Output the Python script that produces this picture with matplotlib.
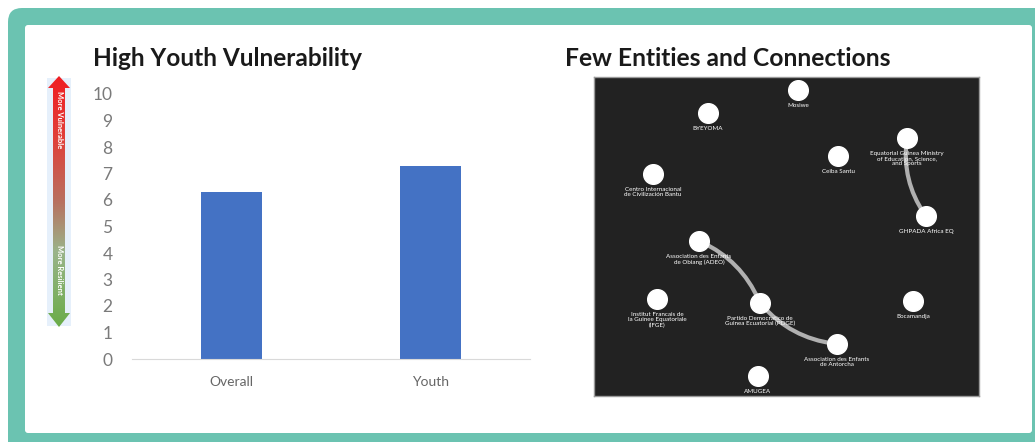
import numpy as np
import matplotlib
matplotlib.use('Agg')
from matplotlib import pyplot as plt
from matplotlib.patches import FancyBboxPatch, Rectangle, Polygon, FancyArrowPatch
from matplotlib.colors import LinearSegmentedColormap

plt.rcParams['font.family'] = ['Lato', 'DejaVu Sans']

# bar chart data
categories = ['Overall', 'Youth']
scores = [6.3, 7.3]

# network data (positions in panel fractions)
node_names = ['Mosiwe', 'BYEYOMA', 'Equatorial Guinea Ministry\nof Education, Science,\nand Sports',
              'Ceiba Santu', 'Centro Internacional\nde Civilización Bantu', 'GHPADA Africa EQ',
              'Association des Enfants\nde Obiang (ADEO)', 'Institut Francais de\nla Guinee Equatoriale\n(IFGE)',
              'Partido Democratico de\nGuinea Ecuatorial (PDGE)', 'Bocamandja',
              'Association des Enfants\nde Antorcha', 'AMUGEA']
node_x = [0.530, 0.296, 0.813, 0.634, 0.153, 0.862, 0.273, 0.164, 0.431, 0.829, 0.631, 0.426]
node_y = [0.959, 0.887, 0.809, 0.752, 0.696, 0.564, 0.486, 0.304, 0.292, 0.298, 0.163, 0.063]
edges = [(2, 5, 0.2), (6, 8, -0.2), (8, 10, 0.2)]

W, H = 1035, 442
fig = plt.figure(figsize=(W / 100, H / 100), dpi=100)


def box(x0, y0, x1, y1):
    # pixel box (top-left origin) -> figure fractions
    return [x0 / W, 1 - y1 / H, (x1 - x0) / W, (y1 - y0) / H]


# frame
bg = fig.add_axes([0, 0, 1, 1], zorder=-10)
bg.set_xlim(0, W)
bg.set_ylim(H, 0)
bg.axis('off')
bg.add_patch(FancyBboxPatch((8, 8), 1060, 470, boxstyle='round,pad=0,rounding_size=14',
                            fc='#6bc3b1', ec='none'))
bg.add_patch(FancyBboxPatch((25, 25), 1007, 408, boxstyle='round,pad=0,rounding_size=3',
                            fc='white', ec='none'))

# bar chart
ax = fig.add_axes(box(132, 94, 530, 359))
ax.bar(range(len(categories)), scores, width=0.31, color='#4472c4')
ax.set_xlim(-0.5, 1.5)
ax.set_ylim(0, 10)
ax.set_yticks(range(0, 11))
ax.set_xticks(range(len(categories)))
ax.set_xticklabels(categories)
ax.tick_params(axis='y', length=0, pad=14, labelsize=12.5, labelcolor='#7a7a7a')
ax.tick_params(axis='x', length=0, pad=12, labelsize=10, labelcolor='#666666')
for s in ['top', 'right', 'left']:
    ax.spines[s].set_visible(False)
ax.spines['bottom'].set_color('#d9d9d9')
ax.set_facecolor('none')

fig.text(93 / W, 1 - 59 / H, 'High Youth Vulnerability', fontsize=17.6, fontweight='bold',
         color='#1a1a1a', va='center', ha='left')
fig.text(565 / W, 1 - 59 / H, 'Few Entities and Connections', fontsize=17.7, fontweight='bold',
         color='#1a1a1a', va='center', ha='left')

# gradient arrow
aa = fig.add_axes(box(40, 70, 78, 330))
aa.axis('off')
aa.add_patch(Rectangle((47, 78), 24, 248, fc='#e6f0fb', ec='none', zorder=1))
cmap = LinearSegmentedColormap.from_list('vr', [(0, '#f01e23'), (0.25, '#e0403a'), (0.5, '#b87060'),
                                                (0.7, '#9ab48a'), (1, '#6aac48')])
grad = np.linspace(0, 1, 256).reshape(-1, 1)
im = aa.imshow(grad, cmap=cmap, extent=(47, 71, 327, 76), aspect='auto', zorder=2)
arrow = Polygon([(59, 76), (70, 88), (65, 88), (65, 313), (70, 313), (59, 327),
                 (48, 313), (53, 313), (53, 88), (48, 88)], closed=True, fc='none', ec='none')
aa.add_patch(arrow)
im.set_clip_path(arrow)
aa.set_xlim(40, 78)
aa.set_ylim(330, 70)
aa.text(60, 120, 'More Vulnerable', rotation=-90, fontsize=5.5, color='white',
        fontweight='bold', ha='center', va='center', zorder=3)
aa.text(60, 270, 'More Resilient', rotation=-90, fontsize=5.5, color='white',
        fontweight='bold', ha='center', va='center', zorder=3)

# network panel
nx = fig.add_axes(box(594, 77, 979, 396))
nx.set_facecolor('#222222')
nx.set_xlim(0, 1)
nx.set_ylim(0, 1)
nx.set_xticks([])
nx.set_yticks([])
for s in nx.spines.values():
    s.set_color('#9a9a9a')
    s.set_linewidth(1)
for a, b, rad in edges:
    nx.add_patch(FancyArrowPatch((node_x[a], node_y[a]), (node_x[b], node_y[b]),
                                 connectionstyle=f'arc3,rad={rad}', arrowstyle='-',
                                 color='#b0b0b0', lw=3, zorder=2))
nx.scatter(node_x, node_y, s=200, color='white', edgecolor='white', zorder=3)
for name, x, y in zip(node_names, node_x, node_y):
    nx.text(x, y - 0.04, name, fontsize=4.5, color='white', ha='center', va='top',
            linespacing=1.1, zorder=4)

fig.savefig('out.png', dpi=100)
